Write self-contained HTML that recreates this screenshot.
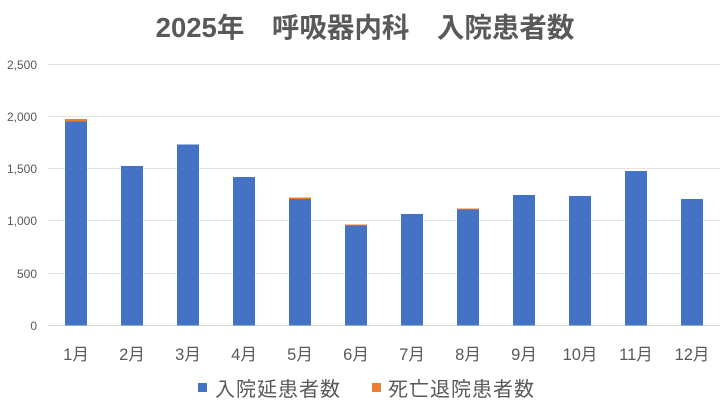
<!DOCTYPE html>
<html><head><meta charset="utf-8"><style>
body{margin:0;background:#fff}
svg{display:block}
text{font-family:"Liberation Sans","Noto Sans CJK JP",sans-serif;fill:#595959}
</style></head><body>
<svg width="728" height="409" viewBox="0 0 728 409" xmlns="http://www.w3.org/2000/svg">
<rect width="728" height="409" fill="#fff"/>
<text x="365" y="37" text-anchor="middle" font-size="27.5" font-weight="bold">2025年　呼吸器内科　入院患者数</text>
<g stroke="#e3e3e3" stroke-width="1">
<line x1="48" x2="720" y1="64.5" y2="64.5"/>
<line x1="48" x2="720" y1="116.5" y2="116.5"/>
<line x1="48" x2="720" y1="168.5" y2="168.5"/>
<line x1="48" x2="720" y1="220.5" y2="220.5"/>
<line x1="48" x2="720" y1="273.5" y2="273.5"/>
</g>
<line x1="48" x2="720" y1="325.5" y2="325.5" stroke="#d9d9d9"/>
<g font-size="12" text-anchor="end">
<text x="37" y="69">2,500</text>
<text x="37" y="121">2,000</text>
<text x="37" y="173">1,500</text>
<text x="37" y="225">1,000</text>
<text x="37" y="278">500</text>
<text x="37" y="330">0</text>
</g>
<g fill="#4472C4">
<rect x="65" y="121.5" width="22" height="204"/>
<rect x="121" y="166" width="22" height="159.5"/>
<rect x="177" y="144.5" width="22" height="181"/>
<rect x="233" y="177" width="22" height="148.5"/>
<rect x="289" y="199" width="22" height="126.5"/>
<rect x="345" y="225.5" width="22" height="100"/>
<rect x="401" y="214" width="22" height="111.5"/>
<rect x="457" y="209.5" width="22" height="116"/>
<rect x="513" y="195" width="22" height="130.5"/>
<rect x="569" y="196" width="22" height="129.5"/>
<rect x="625" y="171" width="22" height="154.5"/>
<rect x="681" y="199" width="22" height="126.5"/>
</g>
<g fill="#ED7D31">
<rect x="65" y="119" width="22" height="2.5"/>
<rect x="289" y="197.5" width="22" height="1.5"/>
<rect x="345" y="224.5" width="22" height="1"/>
<rect x="457" y="208.5" width="22" height="1"/>
</g>
<g font-size="16.5" text-anchor="middle">
<text x="76" y="360">1月</text>
<text x="132" y="360">2月</text>
<text x="188" y="360">3月</text>
<text x="244" y="360">4月</text>
<text x="300" y="360">5月</text>
<text x="356" y="360">6月</text>
<text x="412" y="360">7月</text>
<text x="468" y="360">8月</text>
<text x="524" y="360">9月</text>
<text x="580" y="360">10月</text>
<text x="636" y="360">11月</text>
<text x="692" y="360">12月</text>
</g>
<rect x="198" y="383" width="9" height="9" fill="#4472C4"/>
<text x="215" y="396" font-size="20" letter-spacing="1">入院延患者数</text>
<rect x="372" y="383" width="9" height="9" fill="#ED7D31"/>
<text x="388" y="396" font-size="20" letter-spacing="1">死亡退院患者数</text>
</svg>
</body></html>
